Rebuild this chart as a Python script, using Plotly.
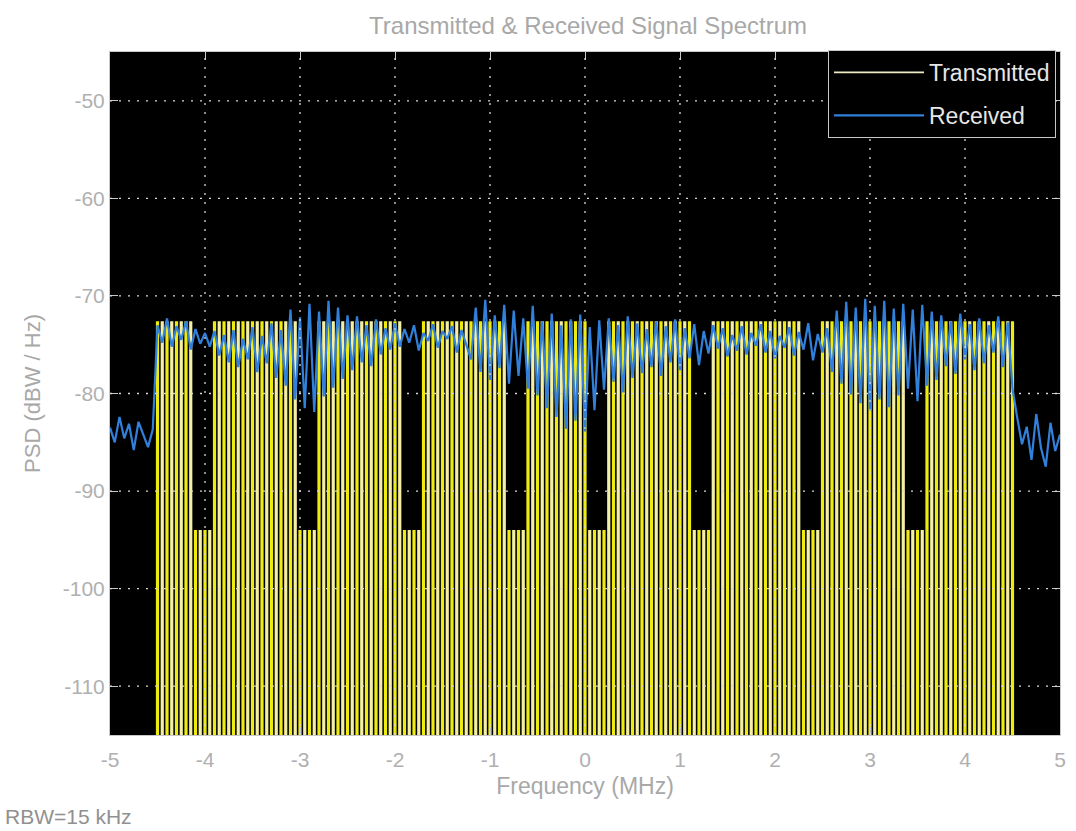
import numpy as np
import plotly.graph_objects as go

# ---------------- data ----------------
freq_ticks = [-5, -4, -3, -2, -1, 0, 1, 2, 3, 4, 5]
psd_ticks = [-110, -100, -90, -80, -70, -60, -50]

# Transmitted spectrum: a comb of lines across the occupied band
tx_band_mhz = [-4.5, 4.5]
tx_line_spacing_mhz = 0.05
tx_peak_dbw = -72.6
tx_notch_dbw = -94.0
tx_null_dbw = -130.0          # nulls fall below the visible axis
tx_notches_mhz = [(-4.12, -3.92), (-3.02, -2.83), (-1.93, -1.72), (-0.82, -0.62),
                  (0.01, 0.24), (1.14, 1.31), (2.26, 2.46), (3.39, 3.56)]

# Received spectrum, one value every 0.05 MHz from -5 MHz to +5 MHz
rx_start_mhz = -5.0
rx_step_mhz = 0.05
rx_psd_dbw = [
    -83.5, -85.0, -82.4, -84.6, -83.1, -85.8, -82.9, -84.2, -85.5, -83.7,
    -73.0,
    -74.8, -72.3, -75.2, -73.1, -74.5, -72.6, -75.5, -73.4, -74.9, -73.8,
    -75.2, -73.6, -76.1, -74.0, -76.8, -73.5, -77.3, -74.4, -76.5, -73.2, -77.8, -74.1, -76.9, -72.8, -78.4, -73.5,
    -79.2, -71.4, -80.6, -72.2, -81.5, -70.8, -81.9, -71.6, -80.3, -70.5, -79.4, -71.2, -78.5, -72.0,
    -77.6, -72.1, -76.8, -73.0, -77.2, -72.4, -76.0, -73.3, -75.5, -72.8,
    -75.2, -73.4, -74.8, -73.0, -75.6, -73.8, -74.6, -72.9, -75.3, -73.6, -74.4, -73.1, -75.8, -73.5, -75.0,
    -76.5, -71.2, -77.8, -70.4, -78.6, -72.0, -77.4, -70.9, -79.0, -71.5, -78.2, -72.3, -79.5, -71.0,
    -80.2, -72.6, -81.5, -71.8, -82.4, -73.0, -83.6, -72.4, -82.8, -71.9, -83.9, -73.2, -81.7, -72.5,
    -79.6, -72.3, -78.8, -73.0, -79.9, -72.1, -78.4, -72.8, -77.9, -73.4,
    -77.3, -72.6, -78.2, -73.1, -76.8, -72.4, -77.6, -73.3, -76.4, -72.9, -77.1, -73.6, -75.9, -73.0,
    -75.4, -73.3, -76.2, -74.0, -75.6, -73.1, -76.0, -73.8, -75.1, -72.9, -75.8, -73.6,
    -76.4, -74.1, -75.3, -73.2, -76.1, -73.7, -75.5, -72.8, -76.6, -73.9, -75.8, -73.3,
    -77.8, -71.5, -79.0, -70.6, -80.1, -71.2, -81.0, -70.3, -81.8, -71.0, -80.6, -70.5,
    -81.4, -71.3, -80.2, -70.8, -79.5, -71.4, -80.8, -70.9, -79.2, -71.6, -78.6,
    -72.0, -77.2, -72.6, -78.0, -71.8, -76.5, -72.9, -77.6, -72.3, -76.9, -73.0, -75.8, -72.1, -77.3, -72.7,
    -79.5,
    -82.5, -85.2, -83.4, -86.8, -82.1, -85.6, -87.5, -83.0, -85.9, -84.2,
]

# ---------------- build traces ----------------
n_lines = int(round((tx_band_mhz[1] - tx_band_mhz[0]) / tx_line_spacing_mhz)) + 1
tx_freqs = [round(tx_band_mhz[0] + k * tx_line_spacing_mhz, 4) for k in range(n_lines)]


def tx_top(f):
    for a, b in tx_notches_mhz:
        if a <= f <= b:
            return tx_notch_dbw
    return tx_peak_dbw


comb = {0: ([], []), 1: ([], [])}
for k, f in enumerate(tx_freqs):
    xs, ys = comb[k % 2]
    xs += [f, f, None]
    ys += [tx_top(f), tx_null_dbw, None]

rx_freqs = [rx_start_mhz + i * rx_step_mhz for i in range(len(rx_psd_dbw))]

FONT = "Liberation Sans, Arial, sans-serif"
fig = go.Figure()
fig.add_trace(go.Scatter(x=comb[1][0], y=comb[1][1], mode="lines",
                         line=dict(color="#f4efa6", width=3.2),
                         name="Transmitted", legendgroup="tx", showlegend=False,
                         hoverinfo="skip"))
fig.add_trace(go.Scatter(x=comb[0][0], y=comb[0][1], mode="lines",
                         line=dict(color="#eeeb12", width=3.2),
                         name="Transmitted", legendgroup="tx", showlegend=False,
                         hoverinfo="skip"))
# legend entry for the transmitted comb (thin pale line, as in the reference legend)
fig.add_trace(go.Scatter(x=[None], y=[None], mode="lines",
                         line=dict(color="#ecebc4", width=1.6),
                         name="Transmitted", legendgroup="tx", showlegend=True))
fig.add_trace(go.Scatter(x=rx_freqs, y=rx_psd_dbw, mode="lines",
                         line=dict(color="#3080dc", width=2.2),
                         name="Received"))

# dotted grid drawn on top of the data (MATLAB "layer top")
grid = dict(color="#d8d8d8", width=1.3, dash="2px,7px")
shapes = []
for t in freq_ticks[1:-1]:
    shapes.append(dict(type="line", xref="x", yref="paper", x0=t, x1=t, y0=0, y1=1,
                       line=grid, layer="above"))
for t in psd_ticks:
    shapes.append(dict(type="line", xref="paper", yref="y", x0=0, x1=1, y0=t, y1=t,
                       line=grid, layer="above"))

axis_common = dict(showgrid=False, zeroline=False, showline=True, mirror="ticks",
                   linecolor="#c8c8c8", linewidth=1, ticks="inside", ticklen=8,
                   tickcolor="#c8c8c8", tickfont=dict(family=FONT, size=21, color="#b0b0b0"),
                   layer="above traces")

fig.update_layout(
    width=1076, height=831,
    margin=dict(l=110, r=10, t=52, b=96),
    paper_bgcolor="white", plot_bgcolor="black",
    title=dict(text="Transmitted &amp; Received Signal Spectrum", x=0.5465, xanchor="center",
               y=1 - 26 / 831, yanchor="middle", yref="container",
               font=dict(family=FONT, size=24, color="#a8a8a8")),
    xaxis=dict(range=[-5, 5], tickvals=freq_ticks, ticktext=[str(t) for t in freq_ticks],
               ticklabelstandoff=6,
               title=dict(text="Frequency (MHz)", standoff=7,
                          font=dict(family=FONT, size=23, color="#a8a8a8")),
               **axis_common),
    yaxis=dict(range=[-115, -45], tickvals=psd_ticks, ticktext=[str(t) for t in psd_ticks],
               title=dict(text="PSD (dBW / Hz)", standoff=16,
                          font=dict(family=FONT, size=22, color="#a8a8a8")),
               **axis_common),
    legend=dict(x=0.9958, xanchor="right", y=1.003, yanchor="top", bgcolor="black",
                bordercolor="#c8c8c8", borderwidth=1, itemwidth=90,
                font=dict(family=FONT, size=23, color="#e6e6e6")),
    shapes=shapes,
    annotations=[dict(text="RBW=15 kHz", xref="paper", yref="paper",
                      x=(2 - 110) / 956, y=(735 - 816) / 683, xanchor="left", yanchor="middle",
                      showarrow=False, font=dict(family=FONT, size=21, color="#909090"))],
    showlegend=True,
)

fig.write_html("out.html")
